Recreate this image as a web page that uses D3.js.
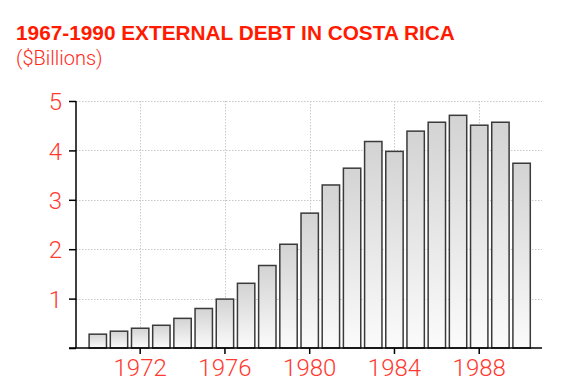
<!DOCTYPE html>
<html>
<head>
<meta charset="utf-8">
<script src="https://cdn.jsdelivr.net/npm/d3@7"></script>
<style>
html,body{margin:0;padding:0;background:#fff;}
svg{display:block;}
</style>
</head>
<body>
<script>
const years = [1970,1971,1972,1973,1974,1975,1976,1977,1978,1979,1980,1981,1982,1983,1984,1985,1986,1987,1988,1989,1990];
const debt = [0.28,0.34,0.40,0.46,0.60,0.80,0.99,1.31,1.67,2.10,2.73,3.30,3.64,4.18,3.98,4.39,4.57,4.71,4.51,4.57,3.74];
const yTicks = [1,2,3,4,5];
const xTickYears = [1972,1976,1980,1984,1988];
const title = "1967-1990 EXTERNAL DEBT IN COSTA RICA";
const subtitle = "($Billions)";

const W = 561, H = 388;
const svg = d3.select("body").append("svg").attr("width", W).attr("height", H);

const defs = svg.append("defs");
const grad = defs.append("linearGradient").attr("id","barGrad").attr("x1",0).attr("y1",0).attr("x2",0).attr("y2",1);
grad.append("stop").attr("offset","0%").attr("stop-color","#d3d3d3");
grad.append("stop").attr("offset","100%").attr("stop-color","#fbfbfb");

const mLeft = 76, mRight = 542, mTop = 101, mBottom = 348;
const x = d3.scaleBand().domain(years).range([87.2, 532.2]).paddingInner(0.18).paddingOuter(0.09);
const y = d3.scaleLinear().domain([0,5]).range([mBottom, mTop]);

const labelFont = "Roboto, 'Liberation Sans', sans-serif";
const labelColor = "#ff3a30";

// grid
const grid = svg.append("g");
grid.selectAll("line.h").data(yTicks).join("line")
  .attr("x1", mLeft).attr("x2", mRight)
  .attr("y1", d => Math.round(y(d)) + 0.5).attr("y2", d => Math.round(y(d)) + 0.5)
  .attr("stroke", "#c8c8c8").attr("stroke-width", 1).attr("stroke-dasharray", "1.5,1.5");
grid.selectAll("line.v").data(xTickYears).join("line")
  .attr("x1", d => Math.round(x(d) + x.bandwidth()/2) + 0.5).attr("x2", d => Math.round(x(d) + x.bandwidth()/2) + 0.5)
  .attr("y1", mTop).attr("y2", mBottom)
  .attr("stroke", "#c8c8c8").attr("stroke-width", 1).attr("stroke-dasharray", "1.5,1.5");

// bars
svg.append("g").selectAll("rect").data(years).join("rect")
  .attr("x", (d) => x(d))
  .attr("y", (d,i) => y(debt[i]))
  .attr("width", x.bandwidth())
  .attr("height", (d,i) => mBottom - y(debt[i]))
  .attr("fill", "url(#barGrad)")
  .attr("stroke", "#3a3a3a").attr("stroke-width", 1.5);

// y axis
const yAxis = d3.axisLeft(y).tickValues([0,1,2,3,4,5]).tickSize(7).tickPadding(7).tickFormat(d => d === 0 ? "" : d);
const gy = svg.append("g").attr("transform", `translate(${mLeft},0)`).call(yAxis);
gy.select(".domain").attr("d", `M0,${mTop}V${mBottom}`).attr("stroke","#000").attr("stroke-width",1.5);
gy.selectAll(".tick line").attr("stroke","#000").attr("stroke-width",1.5);
gy.selectAll(".tick text").attr("fill", labelColor).style("font-family", labelFont).style("font-weight", 300).style("font-size","24px").attr("dy","0.36em");

// x axis
const xAxis = d3.axisBottom(x).tickValues(xTickYears).tickSize(6).tickPadding(6);
const gx = svg.append("g").attr("transform", `translate(0,${mBottom})`).call(xAxis);
gx.select(".domain").attr("d", `M69,0H${mRight}`).attr("stroke","#000").attr("stroke-width",1.5);
gx.selectAll(".tick line").attr("stroke","#000").attr("stroke-width",1.5);
gx.selectAll(".tick text").attr("fill", labelColor).style("font-family", labelFont).style("font-weight", 300).style("font-size","24px").attr("dy","0.68em");

// titles
svg.append("text").attr("x", 16).attr("y", 40).text(title)
  .attr("fill", "#ff1a00").style("font-family","'Liberation Sans', Arial, sans-serif").style("font-weight","bold").style("font-size","20.8px");
svg.append("text").attr("x", 16).attr("y", 65).text(subtitle)
  .attr("fill", "#ff2a1a").style("font-family", labelFont).style("font-weight", 300).style("font-size","20px");
</script>
</body>
</html>
